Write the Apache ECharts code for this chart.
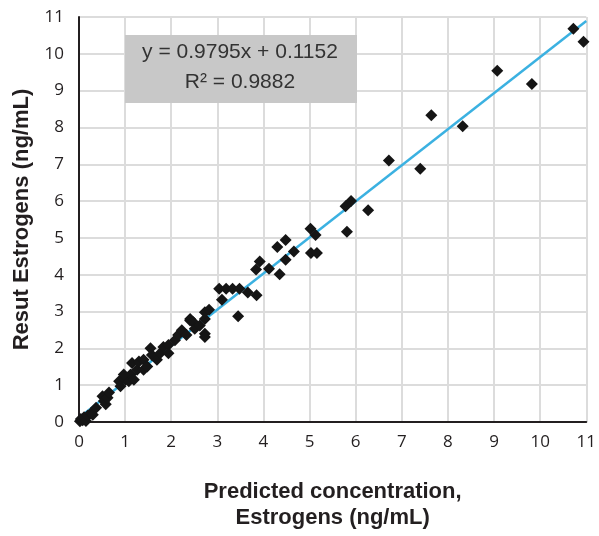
<!DOCTYPE html>
<html>
<head>
<meta charset="utf-8">
<script src="https://cdn.jsdelivr.net/npm/echarts@6/dist/echarts.min.js"></script>
<style>html,body{margin:0;padding:0;background:#fff}#c{width:599px;height:536px}</style>
</head>
<body>
<div id="c"></div>
<script>
// Predicted concentration (x) and result (y), ng/mL
var predicted = [0.02,0.04,0.08,0.11,0.15,0.19,0.26,0.30,0.37,0.51,0.54,0.58,0.62,0.65,
  0.87,0.90,0.97,1.01,1.08,1.12,1.19,0.97,
  1.15,1.26,1.30,1.40,1.40,1.48,1.55,1.58,1.69,1.76,1.83,1.94,1.94,2.08,2.15,2.23,2.33,
  2.41,2.41,2.48,2.51,2.62,2.73,2.73,2.73,2.73,2.82,
  3.04,3.19,3.33,3.48,3.10,3.45,3.66,3.85,3.84,3.92,4.12,4.35,4.30,4.48,4.48,4.66,
  5.03,5.16,5.02,5.13,5.78,5.90,6.27,5.81,6.72,7.40,7.64,8.32,9.07,9.82,10.72,10.94];
var result = [0.02,0.08,0.05,0.13,0.03,0.17,0.24,0.20,0.39,0.70,0.57,0.48,0.66,0.80,
  1.11,0.97,1.20,1.15,1.11,1.29,1.15,1.29,
  1.60,1.42,1.64,1.69,1.42,1.51,2.00,1.82,1.69,1.87,2.04,2.09,1.87,2.22,2.36,2.49,2.36,
  2.80,2.76,2.71,2.53,2.62,2.40,2.31,2.80,2.98,3.05,
  3.62,3.62,3.62,3.62,3.32,2.87,3.52,3.44,4.14,4.36,4.16,4.01,4.75,4.94,4.41,4.63,
  4.59,4.59,5.25,5.08,5.86,6.00,5.75,5.17,7.10,6.88,8.33,8.03,9.54,9.18,10.68,10.33];
// Trendline endpoints (y = 0.9795x + 0.1152)
var trendX = [0, 11];
var trendY = [0.1152, 10.8897];
var axisTicks = [0,1,2,3,4,5,6,7,8,9,10,11];
var eqText = 'y = 0.9795x + 0.1152';
var r2Text = 'R² = 0.9882';
var xTitle = 'Predicted concentration,\nEstrogens (ng/mL)';
var yTitle = 'Resut Estrogens (ng/mL)';

var pts = predicted.map(function(x,i){return [x, result[i]];});
var trend = trendX.map(function(x,i){return [x, trendY[i]];});

var chart = echarts.init(document.getElementById('c'));
var labelStyle = {color:'#231f20', fontSize:17, fontFamily:'Open Sans'};
chart.setOption({
  animation:false,
  grid:{left:79, right:7, top:17, bottom:107},
  xAxis:{type:'value', min:axisTicks[0], max:axisTicks[axisTicks.length-1], interval:1,
    axisLine:{lineStyle:{color:'#231f20', width:2}},
    axisTick:{show:false},
    axisLabel:Object.assign({margin:12}, labelStyle),
    splitLine:{lineStyle:{color:'#dcdcdc', width:2}},
    name:xTitle, nameLocation:'middle', nameGap:57,
    nameTextStyle:{fontFamily:'Liberation Sans', fontWeight:'bold', fontSize:22, color:'#231f20', lineHeight:26, verticalAlign:'top'}
  },
  yAxis:{type:'value', min:axisTicks[0], max:axisTicks[axisTicks.length-1], interval:1,
    axisLine:{lineStyle:{color:'#231f20', width:2}},
    axisTick:{show:false},
    axisLabel:Object.assign({margin:15}, labelStyle),
    splitLine:{lineStyle:{color:'#dcdcdc', width:2}},
    name:yTitle, nameLocation:'middle', nameGap:46,
    nameTextStyle:{fontFamily:'Liberation Sans', fontWeight:'bold', fontSize:22, color:'#231f20'}
  },
  graphic:[
    {type:'rect', left:125, top:35, shape:{width:232, height:68}, style:{fill:'#c8c8c8'}, z:10},
    {type:'text', z:11,
      style:{text:eqText, fill:'#333', font:'21px "Liberation Sans"', x:240, y:52, align:'center', verticalAlign:'middle'}},
    {type:'text', z:11,
      style:{text:r2Text, fill:'#333', font:'21px "Liberation Sans"', x:240, y:82, align:'center', verticalAlign:'middle'}}
  ],
  series:[
    {type:'line', data:trend, showSymbol:false, symbol:'none', lineStyle:{color:'#3bb1e1', width:2.5}, z:2},
    {type:'scatter', data:pts, symbol:'diamond', symbolSize:12, itemStyle:{color:'#151515', opacity:1}, z:3}
  ]
});
</script>
</body>
</html>
